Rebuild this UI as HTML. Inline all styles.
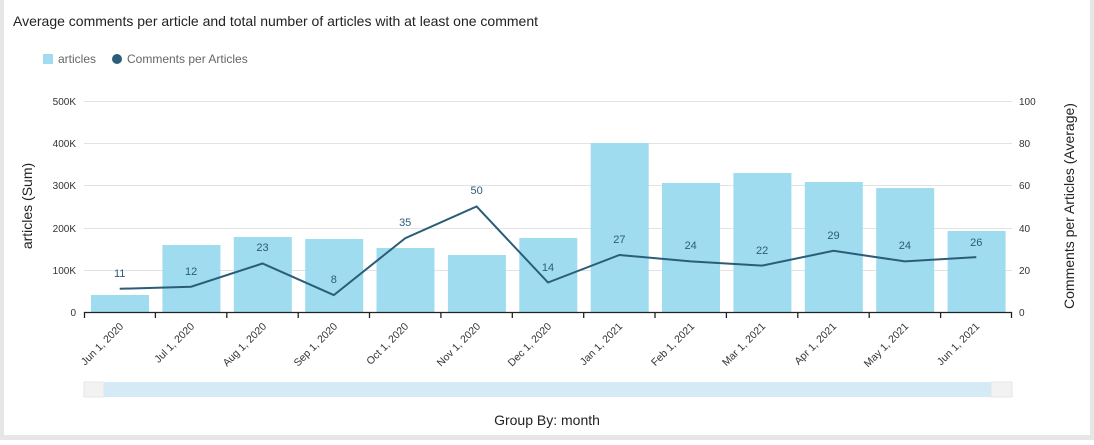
<!DOCTYPE html>
<html><head><meta charset="utf-8"><style>
html,body{margin:0;padding:0;background:#fff;}
body{width:1094px;height:440px;overflow:hidden;position:relative;font-family:"Liberation Sans","DejaVu Sans",sans-serif;}
</style></head><body>
<svg width="1094" height="440" xmlns="http://www.w3.org/2000/svg" font-family="Liberation Sans, DejaVu Sans, sans-serif">
<rect x="0" y="0" width="1094" height="440" fill="#fff"/>
<rect x="0" y="0" width="4" height="440" fill="#e6e6e6"/>
<rect x="1090" y="0" width="4" height="440" fill="#e6e6e6"/>
<rect x="0" y="435" width="1094" height="5" fill="#e6e6e6"/>
<text x="13" y="26" font-size="14" fill="#222">Average comments per article and total number of articles with at least one comment</text>
<rect x="43" y="54" width="10" height="10" fill="#9fdcef"/>
<text x="58" y="63" font-size="12" fill="#666">articles</text>
<circle cx="117" cy="59" r="5" fill="#2b5d78"/>
<text x="127" y="63" font-size="12" fill="#666">Comments per Articles</text>
<g stroke="#e3e3e3" stroke-width="1">
<line x1="84" x2="1012" y1="101.5" y2="101.5"/><line x1="84" x2="1012" y1="143.5" y2="143.5"/>
<line x1="84" x2="1012" y1="185.5" y2="185.5"/><line x1="84" x2="1012" y1="228.5" y2="228.5"/>
<line x1="84" x2="1012" y1="270.5" y2="270.5"/>
</g>
<g font-size="10" fill="#333" text-anchor="end">
<text x="76" y="105">500K</text><text x="76" y="147">400K</text><text x="76" y="189">300K</text>
<text x="76" y="232">200K</text><text x="76" y="274">100K</text><text x="76" y="316">0</text>
</g>
<g font-size="10" fill="#333">
<text x="1019" y="105">100</text><text x="1019" y="147">80</text><text x="1019" y="189">60</text>
<text x="1019" y="232">40</text><text x="1019" y="274">20</text><text x="1019" y="316">0</text>
</g>
<text transform="translate(32,206) rotate(-90)" font-size="14" fill="#222" text-anchor="middle">articles (Sum)</text>
<text transform="translate(1074,206) rotate(-90)" font-size="14" fill="#222" text-anchor="middle">Comments per Articles (Average)</text>
<g fill="#9fdcef">
<rect x="91" y="295" width="58" height="17"/>
<rect x="162.4" y="245" width="58" height="67"/>
<rect x="233.8" y="237" width="58" height="75"/>
<rect x="305.2" y="239" width="58" height="73"/>
<rect x="376.5" y="248" width="58" height="64"/>
<rect x="447.9" y="255" width="58" height="57"/>
<rect x="519.3" y="238" width="58" height="74"/>
<rect x="590.7" y="143" width="58" height="169"/>
<rect x="662" y="183" width="58" height="129"/>
<rect x="733.4" y="173" width="58" height="139"/>
<rect x="804.8" y="182" width="58" height="130"/>
<rect x="876.2" y="188" width="58" height="124"/>
<rect x="947.6" y="231" width="58" height="81"/>
</g>
<polyline fill="none" stroke="#2b5d78" stroke-width="2" points="119.7,288.8 191.1,286.7 262.5,263.5 333.8,295.1 405.2,238.2 476.6,206.5 548,282.5 619.4,255 690.7,261.4 762.1,265.6 833.5,250.8 904.9,261.4 976.3,257.1"/>
<g font-size="11" fill="#2b5d78" text-anchor="middle">
<text x="119.7" y="277">11</text><text x="191.1" y="275">12</text><text x="262.5" y="251">23</text>
<text x="333.8" y="283">8</text><text x="405.2" y="226">35</text><text x="476.6" y="194">50</text>
<text x="548" y="271">14</text><text x="619.4" y="243">27</text><text x="690.7" y="249">24</text>
<text x="762.1" y="254">22</text><text x="833.5" y="239">29</text><text x="904.9" y="249">24</text>
<text x="976.3" y="246">26</text>
</g>
<g stroke="#222" stroke-width="1.3">
<line x1="84" x2="1012" y1="312.5" y2="312.5"/>
<line x1="84.5" x2="84.5" y1="312" y2="318"/><line x1="155.4" x2="155.4" y1="312" y2="318"/>
<line x1="226.8" x2="226.8" y1="312" y2="318"/><line x1="298.2" x2="298.2" y1="312" y2="318"/>
<line x1="369.5" x2="369.5" y1="312" y2="318"/><line x1="440.9" x2="440.9" y1="312" y2="318"/>
<line x1="512.3" x2="512.3" y1="312" y2="318"/><line x1="583.7" x2="583.7" y1="312" y2="318"/>
<line x1="655" x2="655" y1="312" y2="318"/><line x1="726.4" x2="726.4" y1="312" y2="318"/>
<line x1="797.8" x2="797.8" y1="312" y2="318"/><line x1="869.2" x2="869.2" y1="312" y2="318"/>
<line x1="940.6" x2="940.6" y1="312" y2="318"/><line x1="1011.5" x2="1011.5" y1="312" y2="318"/>
</g>
<g font-size="10.5" fill="#333" text-anchor="end">
<text transform="translate(124,327) rotate(-45)">Jun 1, 2020</text>
<text transform="translate(195,327) rotate(-45)">Jul 1, 2020</text>
<text transform="translate(267,327) rotate(-45)">Aug 1, 2020</text>
<text transform="translate(338,327) rotate(-45)">Sep 1, 2020</text>
<text transform="translate(409,327) rotate(-45)">Oct 1, 2020</text>
<text transform="translate(481,327) rotate(-45)">Nov 1, 2020</text>
<text transform="translate(552,327) rotate(-45)">Dec 1, 2020</text>
<text transform="translate(623,327) rotate(-45)">Jan 1, 2021</text>
<text transform="translate(695,327) rotate(-45)">Feb 1, 2021</text>
<text transform="translate(766,327) rotate(-45)">Mar 1, 2021</text>
<text transform="translate(837,327) rotate(-45)">Apr 1, 2021</text>
<text transform="translate(909,327) rotate(-45)">May 1, 2021</text>
<text transform="translate(980,327) rotate(-45)">Jun 1, 2021</text>
</g>
<rect x="84" y="382" width="928" height="15" fill="#d4eaf7"/>
<rect x="84" y="382" width="20" height="15" fill="#f2f2f2" stroke="#e6e6e6"/>
<rect x="991" y="382" width="21" height="15" fill="#f2f2f2" stroke="#e6e6e6"/>
<text x="547" y="425" font-size="14" fill="#222" text-anchor="middle">Group By: month</text>
</svg>
</body></html>
